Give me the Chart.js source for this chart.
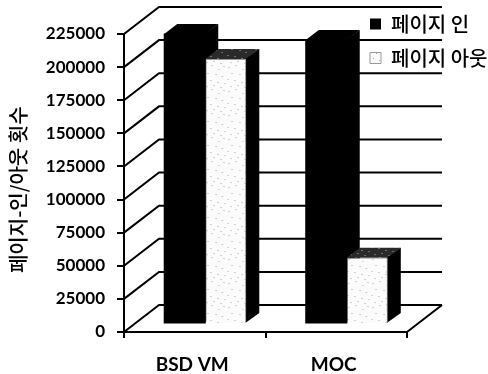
<!DOCTYPE html>
<html>
<head>
<meta charset="utf-8">
<style>
  body { margin: 0; background: #fff; }
  canvas { display: block; }
</style>
<script src="https://cdn.jsdelivr.net/npm/chart.js@4/dist/chart.umd.min.js"></script>
</head>
<body>
<canvas id="chart" width="488" height="374"></canvas>
<script>
const categories = ['BSD VM', 'MOC'];
const pageIn = [219000, 214500];
const pageOut = [200000, 50000];
const seriesNames = ['페이지 인', '페이지 아웃'];
const axisTitle = '페이지-인/아웃 횟수';
const yMax = 225000;
const yStep = 25000;

const latin = 'Lato, sans-serif';
const korean = '"Noto Sans CJK KR", sans-serif';

// depth of the floor/wall, shift of the bars into it, depth of a bar
const wall = { x: 35, y: 27 };
const shift = { x: 10.5, y: 8 };
const depth = { x: 13, y: 10 };

// print-like dither for the page-out bars
function speckle(bg, dot) {
    const c = document.createElement('canvas');
    c.width = 24;
    c.height = 24;
    const g = c.getContext('2d');
    g.fillStyle = bg;
    g.fillRect(0, 0, 24, 24);
    g.fillStyle = dot;
    [[2, 3], [9, 1], [16, 5], [21, 2], [5, 9], [13, 10], [19, 12], [1, 15], [8, 16], [15, 18], [22, 19], [4, 22], [11, 21], [18, 23]]
        .forEach(p => g.fillRect(p[0], p[1], 1, 1));
    return g.createPattern(c, 'repeat');
}
const lightFill = speckle('#fbfbfb', '#a8a8a8');
const darkTop = speckle('#2a2a2a', '#b0b0b0');

const box3d = {
    id: 'box3d',
    beforeDatasetsDraw(chart) {
        const { ctx, scales: { x, y } } = chart;
        ctx.save();
        ctx.strokeStyle = '#000';
        ctx.lineWidth = 2;
        y.ticks.forEach(t => {
            const py = y.getPixelForValue(t.value);
            ctx.beginPath();
            ctx.moveTo(x.left, py);
            ctx.lineTo(x.left + wall.x, py - wall.y);
            ctx.lineTo(x.right + wall.x, py - wall.y);
            ctx.stroke();
        });
        ctx.beginPath();
        ctx.moveTo(x.right, y.bottom);
        ctx.lineTo(x.right + wall.x, y.bottom - wall.y);
        ctx.stroke();
        ctx.restore();

        ctx.save();
        ctx.translate(shift.x, -shift.y);
        chart.data.datasets.forEach((ds, i) => {
            chart.getDatasetMeta(i).data.forEach(bar => {
                const left = bar.x - bar.width / 2;
                const right = bar.x + bar.width / 2;
                ctx.fillStyle = ds.topColor;
                ctx.beginPath();
                ctx.moveTo(left, bar.y);
                ctx.lineTo(left + depth.x, bar.y - depth.y);
                ctx.lineTo(right + depth.x, bar.y - depth.y);
                ctx.lineTo(right, bar.y);
                ctx.closePath();
                ctx.fill();
                ctx.fillStyle = '#000';
                ctx.beginPath();
                ctx.moveTo(right - 1, bar.y);
                ctx.lineTo(right + depth.x, bar.y - depth.y);
                ctx.lineTo(right + depth.x, bar.base - depth.y);
                ctx.lineTo(right - 1, bar.base);
                ctx.closePath();
                ctx.fill();
            });
        });
    },
    afterDatasetsDraw(chart) {
        chart.ctx.restore();
    },
    afterLayout(chart) {
        const legend = chart.legend;
        legend.left = 356;
        legend.right = chart.width;
        legend.top = 0;
        legend.bottom = 90;
    }
};

new Chart(document.getElementById('chart'), {
    type: 'bar',
    plugins: [box3d],
    data: {
        labels: categories,
        datasets: [
            {
                label: seriesNames[0],
                data: pageIn,
                backgroundColor: '#000',
                borderWidth: 0,
                inflateAmount: 0.5,
                topColor: '#000',
                clip: false
            },
            {
                label: seriesNames[1],
                data: pageOut,
                backgroundColor: lightFill,
                borderColor: '#9a9a9a',
                borderWidth: 1,
                inflateAmount: 0,
                topColor: darkTop,
                clip: false
            }
        ]
    },
    options: {
        responsive: false,
        animation: false,
        layout: { padding: { top: 34, right: 81, bottom: 0, left: 0 } },
        datasets: { bar: { categoryPercentage: 0.58, barPercentage: 1 } },
        plugins: {
            tooltip: { enabled: false },
            legend: {
                position: 'chartArea',
                align: 'start',
                labels: {
                    boxWidth: 11,
                    boxHeight: 11,
                    padding: 14,
                    color: '#000',
                    font: { family: korean, size: 20, weight: '500' }
                }
            }
        },
        scales: {
            x: {
                afterFit(scale) { scale.height = 42; },
                grid: { offset: true, drawOnChartArea: false, color: '#000', lineWidth: 2, tickLength: 6 },
                border: { color: '#000', width: 2 },
                ticks: { color: '#000', padding: 15, labelOffset: -2.5, font: { family: latin, size: 19, weight: 'bold' } }
            },
            y: {
                min: 0,
                max: yMax,
                afterFit(scale) { scale.width = 124; },
                grid: { drawOnChartArea: false, color: '#000', lineWidth: 2, tickLength: 7 },
                border: { color: '#000', width: 2 },
                ticks: {
                    stepSize: yStep,
                    padding: 12,
                    color: '#000',
                    font: { family: latin, size: 17, weight: 'bold' },
                    callback: v => String(v)
                },
                title: {
                    display: true,
                    text: axisTitle + '   ',
                    color: '#000',
                    padding: { top: 6, bottom: 0 },
                    font: { family: korean, size: 20, weight: '500' }
                }
            }
        }
    }
});
</script>
</body>
</html>
